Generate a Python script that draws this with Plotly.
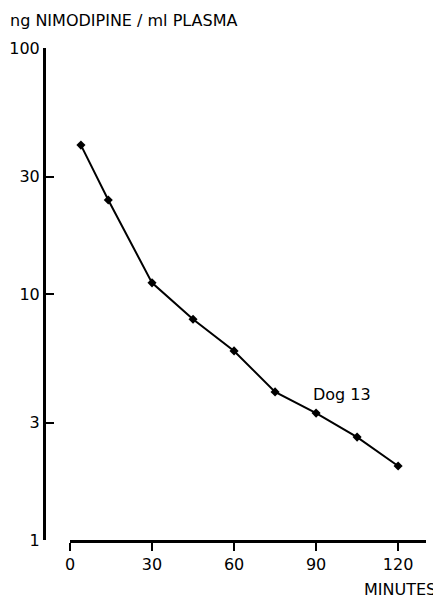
import plotly.graph_objects as go

minutes = [4, 14, 30, 45, 60, 75, 90, 105, 120]
conc = [40.3, 24.1, 11.1, 7.9, 5.87, 4.0, 3.28, 2.62, 2.0]
x_ticks = [0, 30, 60, 90, 120]
y_ticks = [1, 3, 10, 30, 100]
y_tick_labels = ["1", "3", "10", "30", "100"]

FONT = "DejaVu Sans"
# page body has an 8px margin: figure coordinates = reference - 8
W, H = 433, 590
L, R, T, B = 36, 15, 40, 58
pw = W - L - R
ph = H - T - B

fig = go.Figure()
fig.add_trace(go.Scatter(
    x=minutes, y=conc, mode="lines+markers",
    line=dict(color="black", width=2),
    marker=dict(symbol="diamond", size=7, color="black"),
    showlegend=False, hoverinfo="skip",
))

fig.update_layout(
    width=W, height=H,
    margin=dict(l=L, r=R, t=T, b=B, autoexpand=False),
    paper_bgcolor="white", plot_bgcolor="white",
    font=dict(family=FONT, size=16, color="black"),
    xaxis=dict(
        domain=[(62 - L) / pw, 1], range=[0, 130.2],
        tickmode="array", tickvals=x_ticks,
        ticks="outside", ticklen=8, tickwidth=2, tickcolor="black",
        showline=True, linewidth=3, linecolor="black",
        showgrid=False, zeroline=False, anchor="y", automargin=False,
        tickfont=dict(family=FONT, size=16),
    ),
    yaxis=dict(
        type="log", range=[0, 2], anchor="free", position=0,
        tickmode="array", tickvals=y_ticks, ticktext=y_tick_labels,
        ticks="inside", ticklen=8, tickwidth=2, tickcolor="black",
        showline=True, linewidth=3, linecolor="black",
        showgrid=False, zeroline=False, automargin=False,
        tickfont=dict(family=FONT, size=16),
    ),
)

fig.add_annotation(
    text="ng NIMODIPINE / ml PLASMA", xref="paper", yref="paper",
    x=(0 - L) / pw, y=(H - B - 13) / ph, xanchor="left", yanchor="middle",
    showarrow=False, font=dict(family=FONT, size=16, color="black"),
)
fig.add_annotation(
    text="MINUTES", xref="paper", yref="paper",
    x=(430 - L) / pw, y=(H - B - 581) / ph, xanchor="right", yanchor="middle",
    showarrow=False, font=dict(family=FONT, size=16, color="black"),
)
fig.add_annotation(
    text="Dog 13", x=99.5, y=0.593, xref="x", yref="y",
    xanchor="center", yanchor="middle",
    showarrow=False, font=dict(family=FONT, size=16, color="black"),
)

fig.write_html("out.html")
